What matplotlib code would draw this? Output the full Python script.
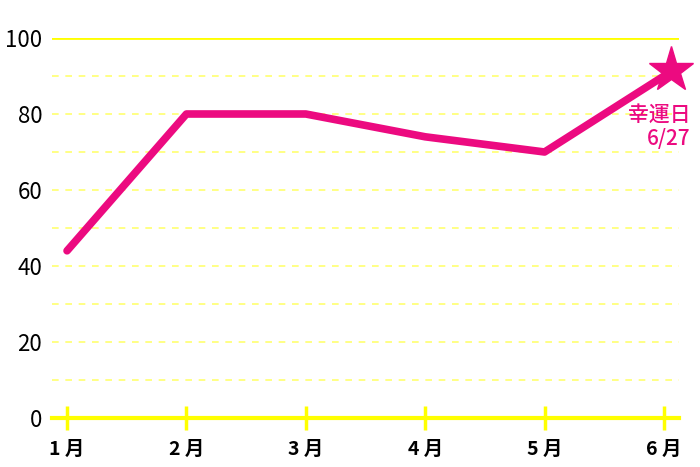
import matplotlib
matplotlib.use("Agg")
import matplotlib.pyplot as plt
import matplotlib.transforms as mtransforms

plt.rcParams['font.family'] = ['Noto Sans CJK JP', 'DejaVu Sans']

months = ['1 月', '2 月', '3 月', '4 月', '5 月', '6 月']
values = [44, 80, 80, 74, 70, 90]
y_ticks = [0, 20, 40, 60, 80, 100]
note = '幸運日\n6/27'

pink = '#ec0a80'
yellow = '#ffff00'

fig = plt.figure(figsize=(7, 4.67), dpi=100)
ax = fig.add_axes([52 / 700, 49 / 467, 627 / 700, 380 / 467])
x = list(range(len(months)))

# grid
for v in range(10, 100, 10):
    ax.axhline(v, color='#ffff70', lw=1.2, ls=(0, (4, 4)), zorder=1)
ax.axhline(100, color=yellow, lw=2, zorder=1)

ax.plot(x, values, color=pink, lw=5.5, solid_joinstyle='round',
        solid_capstyle='round', zorder=3)
star_tr = mtransforms.offset_copy(ax.transData, fig=fig, x=5, y=4, units='points')
ax.plot(x[-1], values[-1], marker='*', ms=34, color=pink, mec=pink,
        transform=star_tr, zorder=4, clip_on=False)
ax.text(x[-1] + 0.22, values[-1] - 7.3, note, color=pink, fontsize=15,
        fontweight='medium', ha='right', va='top', linespacing=1.15, zorder=5)

ax.set_xlim(-0.126, 5.126)
ax.set_ylim(0, 100)
for s in ['top', 'right', 'left']:
    ax.spines[s].set_visible(False)
ax.spines['bottom'].set_color(yellow)
ax.spines['bottom'].set_linewidth(3)

ax.set_xticks(x)
ax.set_xticklabels(months, fontsize=14, fontweight='bold')
ax.set_yticks(y_ticks)
ax.set_yticklabels([str(t) for t in y_ticks], fontsize=16)
ax.tick_params(axis='x', direction='inout', length=17, width=2.5, color=yellow, pad=7)
ax.tick_params(axis='y', length=0, pad=7)

fig.savefig('out.png', dpi=100)
